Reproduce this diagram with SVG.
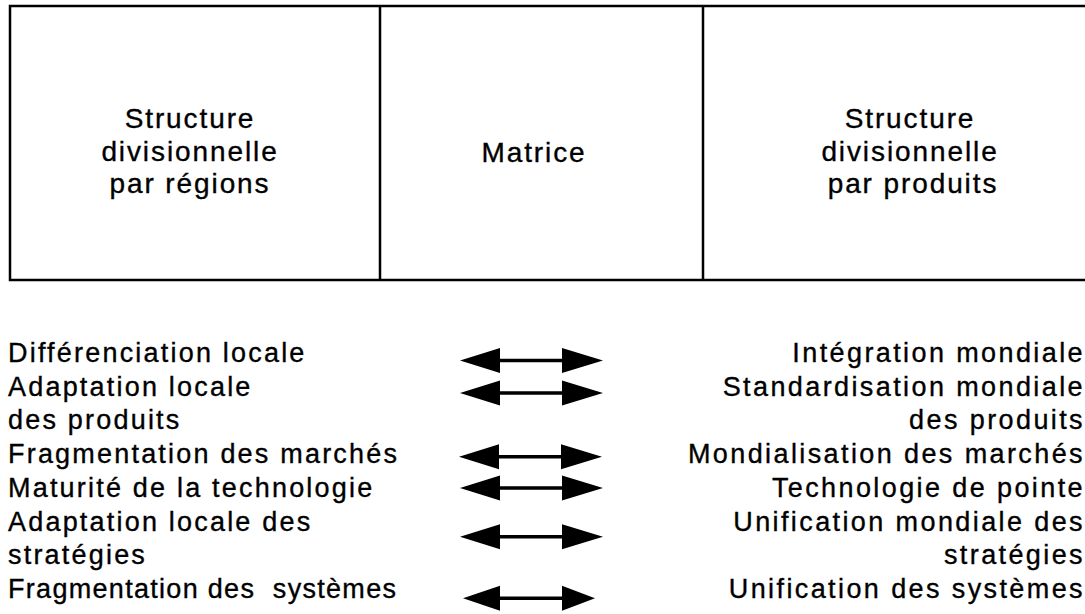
<svg xmlns="http://www.w3.org/2000/svg" width="1085" height="614" viewBox="0 0 1085 614">
<style>
.t{font-family:"Liberation Sans",Arial,Helvetica,sans-serif;fill:#000;stroke:#000;stroke-width:0.35}
.box{font-size:28px;letter-spacing:1.9px;text-anchor:middle}
.l{font-size:27px;letter-spacing:2.2px}
.r{font-size:27px;letter-spacing:2.4px;text-anchor:end}
.frame{fill:none;stroke:#000;stroke-width:2.5}
.arr{fill:#000}
</style>
<rect width="1085" height="614" fill="#fff"/>
<g id="table">
<rect class="frame" x="10" y="6" width="1090" height="274"/>
<line class="frame" x1="380" y1="6" x2="380" y2="280"/>
<line class="frame" x1="703" y1="6" x2="703" y2="280"/>
</g>
<g id="node-regions">
<text class="t box" x="190"><tspan x="190" y="128">Structure</tspan><tspan x="190" y="161">divisionnelle</tspan><tspan x="190" y="193">par régions</tspan></text>
</g>
<g id="node-matrice">
<text class="t box" x="534" y="162">Matrice</text>
</g>
<g id="node-produits">
<text class="t box" x="910"><tspan x="910" y="128">Structure</tspan><tspan x="910" y="161">divisionnelle</tspan><tspan x="913" y="193">par produits</tspan></text>
</g>
<g id="left-list">
<text class="t l" xml:space="preserve"><tspan x="8" y="362">Différenciation locale</tspan><tspan x="8" y="395.5">Adaptation locale</tspan><tspan x="8" y="429">des produits</tspan><tspan x="8" y="463">Fragmentation des marchés</tspan><tspan x="8" y="497">Maturité de la technologie</tspan><tspan x="8" y="530.5">Adaptation locale des</tspan><tspan x="8" y="564">stratégies</tspan><tspan x="8" y="598" style="letter-spacing:1.3px">Fragmentation des  systèmes</tspan></text>
</g>
<g id="right-list">
<text class="t r"><tspan x="1085" y="362">Intégration mondiale</tspan><tspan x="1085" y="395.5">Standardisation mondiale</tspan><tspan x="1085" y="429">des produits</tspan><tspan x="1085" y="463">Mondialisation des marchés</tspan><tspan x="1085" y="497">Technologie de pointe</tspan><tspan x="1085" y="530.5">Unification mondiale des</tspan><tspan x="1085" y="564">stratégies</tspan><tspan x="1085" y="598">Unification des systèmes</tspan></text>
</g>
<g id="connectors">
<defs>
<path id="dbl" d="M0 0 L40 -12.5 L40 -1.8 L102 -1.8 L102 -12.5 L143 0 L102 12.5 L102 1.8 L40 1.8 L40 12.5 Z"/>
</defs>
<use class="arr" href="#dbl" x="460" y="360.5"/>
<use class="arr" href="#dbl" x="460" y="393"/>
<use class="arr" href="#dbl" x="459" y="456.7"/>
<use class="arr" href="#dbl" x="460" y="488"/>
<use class="arr" href="#dbl" x="460" y="536.7"/>
<path class="arr" transform="translate(463 598.3)" d="M0 0 L37 -12.5 L37 -1.8 L99 -1.8 L99 -12.5 L132 0 L99 12.5 L99 1.8 L37 1.8 L37 12.5 Z"/>
</g>
</svg>
